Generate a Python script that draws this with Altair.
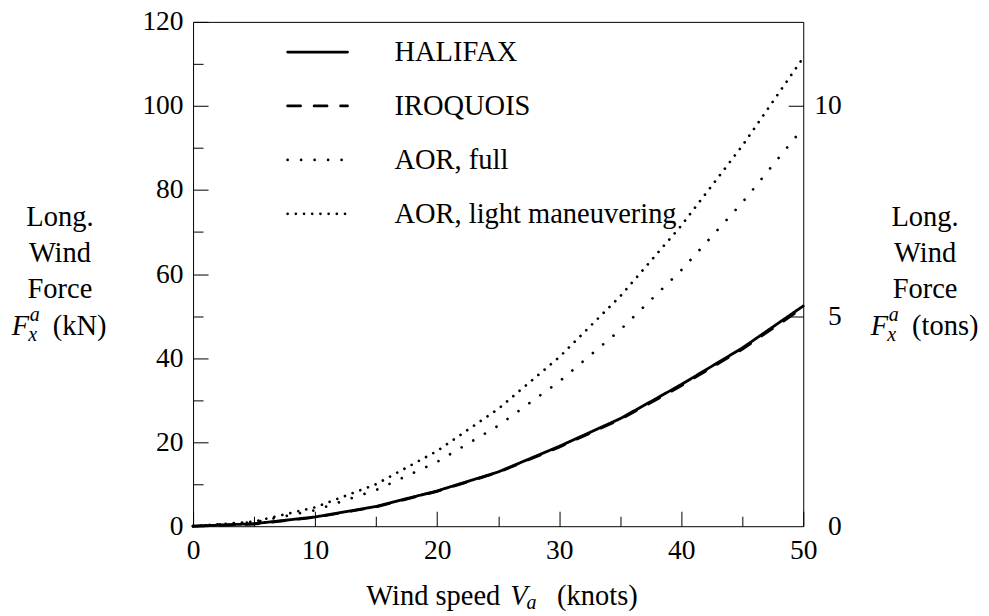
import altair as alt
import pandas as pd

# ---------------- data ----------------
speed = [0, 5, 10, 15, 20, 25, 30, 35, 40, 45, 50]
halifax = [0, 0.6, 2.2, 4.7, 8.4, 12.9, 19.0, 25.6, 33.7, 42.4, 52.4]
iroquois = [0, 0.5, 2.1, 4.6, 8.3, 12.8, 18.8, 25.4, 33.4, 42.1, 52.0]
aor_full = [0, 0.95, 3.8, 8.6, 15.3, 23.9, 34.4, 46.7, 60.9, 77.0, 94.8]
aor_light = [0, 1.1, 4.5, 10.0, 17.9, 27.9, 40.2, 54.7, 71.5, 90.5, 111.5]
series_names = ["HALIFAX", "IROQUOIS", "AOR, full", "AOR, light maneuvering"]

x_major = [0, 10, 20, 30, 40, 50]
x_minor = [5, 15, 25, 35, 45]
y_major = [0, 20, 40, 60, 80, 100, 120]
y_minor = [10, 30, 50, 70, 90, 110]
tons_ticks = [0, 5, 10]
KN_PER_TON = 10

left_title = ["Long.", "Wind", "Force"]
right_title = ["Long.", "Wind", "Force"]

# ---------------- table ----------------
rows = []
for name, vals in zip(series_names, [halifax, iroquois, aor_full, aor_light]):
    for v, f in zip(speed, vals):
        rows.append({"V": v, "F": f, "series": name})
df = pd.DataFrame(rows)
legend_df = pd.DataFrame({"series": series_names})

FONT = "Times New Roman, Liberation Serif, serif"
FS = 28.5
TICK_FS = 27.5
SUB = 20

x_scale = alt.Scale(domain=[0, 50], nice=False, zero=False)
y_scale = alt.Scale(domain=[0, 120], nice=False, zero=False)
dash_scale = alt.Scale(domain=series_names,
                       range=[[1, 0], [13, 13.5], [0.01, 13.5], [0.01, 8.2]])


def X(axis):
    return alt.X("V:Q", scale=x_scale, axis=axis)


def Y(axis):
    return alt.Y("F:Q", scale=y_scale, axis=axis)


def tick_axis(orient, values, size):
    return alt.Axis(orient=orient, values=values, offset=-size, tickSize=size,
                    ticks=True, labels=False, domain=False, grid=False, title=None,
                    tickColor="black", tickWidth=1)


def label_axis(orient, values, padding, align=None, expr=None):
    kw = dict(orient=orient, values=values, ticks=False, tickSize=0, labels=True,
              domain=False, grid=False, title=None, labelFont=FONT, labelFontSize=TICK_FS,
              labelColor="black", labelPadding=padding, labelOverlap=False,
              labelFlush=False, labelBound=False)
    if align:
        kw["labelAlign"] = align
    if expr:
        kw["labelExpr"] = expr
    return alt.Axis(**kw)


base = alt.Chart(df)
dash = alt.StrokeDash("series:N", scale=dash_scale, legend=None)

lines_other = base.transform_filter(alt.datum.series != "HALIFAX").mark_line(
    strokeWidth=2.7, strokeCap="round", color="black"
).encode(x=X(None), y=Y(None), strokeDash=dash, detail="series:N")

lines_hal = base.transform_filter(alt.datum.series == "HALIFAX").mark_line(
    strokeWidth=2.8, strokeCap="round", color="black"
).encode(
    x=X(label_axis("bottom", x_major, 10)),
    y=Y(label_axis("left", y_major, 10)),
    strokeDash=dash,
)

inv = dict(opacity=0, size=0)
ax_x_major = base.mark_point(**inv).encode(x=X(tick_axis("bottom", x_major, 15)), y=Y(None))
ax_x_minor = base.mark_point(**inv).encode(x=X(tick_axis("bottom", x_minor, 10)), y=Y(None))
ax_y_major = base.mark_point(**inv).encode(x=X(None), y=Y(tick_axis("left", y_major, 15)))
ax_y_minor = base.mark_point(**inv).encode(x=X(None), y=Y(tick_axis("left", y_minor, 10)))
tons_kn = [t * KN_PER_TON for t in tons_ticks]
ax_r_ticks = base.mark_point(**inv).encode(
    x=X(None), y=Y(tick_axis("right", [v for v in tons_kn if v > 0], 15)))
ax_r_labels = base.mark_point(**inv).encode(
    x=X(None),
    y=Y(label_axis("right", tons_kn, 38, align="right",
                   expr=f"format(datum.value / {KN_PER_TON}, 'd')")))

inner = alt.layer(
    lines_other, lines_hal, ax_x_major, ax_x_minor, ax_y_major, ax_y_minor,
    ax_r_ticks, ax_r_labels
).resolve_axis(x="independent", y="independent")

# ---------------- legend ----------------
leg_y = alt.Y("series:N", sort=series_names,
              scale=alt.Scale(type="point", domain=series_names, range=[30.2, 192.2], padding=0),
              axis=None)
legend_rules = alt.Chart(legend_df).mark_rule(
    strokeWidth=2.7, strokeCap="round", color="black"
).encode(x=alt.value(94.7), x2=alt.value(154.7), y=leg_y, strokeDash=dash)
legend_text = alt.Chart(legend_df).mark_text(
    align="left", baseline="alphabetic", dy=9.3, font=FONT, fontSize=FS, color="black"
).encode(x=alt.value(201.7), y=leg_y, text="series:N")


# ---------------- titles ----------------
def txt(s, x, y, size=FS, italic=False, align="left"):
    return alt.Chart(alt.Data(values=[{}])).mark_text(
        text=s, align=align, baseline="alphabetic", font=FONT, fontSize=size,
        fontStyle="italic" if italic else "normal", color="black"
    ).encode(x=alt.value(x), y=alt.value(y))


titles = []
for i, s in enumerate(left_title):
    titles.append(txt(s, -133.3, 204.5 + 36 * i, align="center"))
titles += [
    txt("F", -181.6, 313.5, italic=True),
    txt("a", -163.5, 299.5, size=SUB, italic=True),
    txt("x", -165, 320, size=SUB, italic=True),
    txt("(kN)", -140.5, 313.5),
]
for i, s in enumerate(right_title):
    titles.append(txt(s, 733, 204.5 + 36 * i, align="center"))
titles += [
    txt("F", 678.5, 313.5, italic=True),
    txt("a", 696.6, 299.5, size=SUB, italic=True),
    txt("x", 695.1, 320, size=SUB, italic=True),
    txt("(tons)", 720, 313.5),
]
titles += [
    txt("Wind speed", 173.5, 584, align="left"),
    txt("V", 317.5, 584, italic=True),
    txt("a", 334, 588, size=SUB, italic=True),
    txt("(knots)", 364.5, 584),
]

chart = alt.layer(inner, legend_rules, legend_text, *titles).resolve_scale(
    y="independent"
).properties(
    width=611, height=505,
    autosize=alt.AutoSizeParams(type="none"),
    padding={"left": 185.3, "top": 13.5, "right": 178, "bottom": 85.5},
).configure_view(stroke="black", strokeWidth=1).configure_axis(grid=False)

chart.save("out.html", embed_options={"renderer": "svg", "actions": False})
